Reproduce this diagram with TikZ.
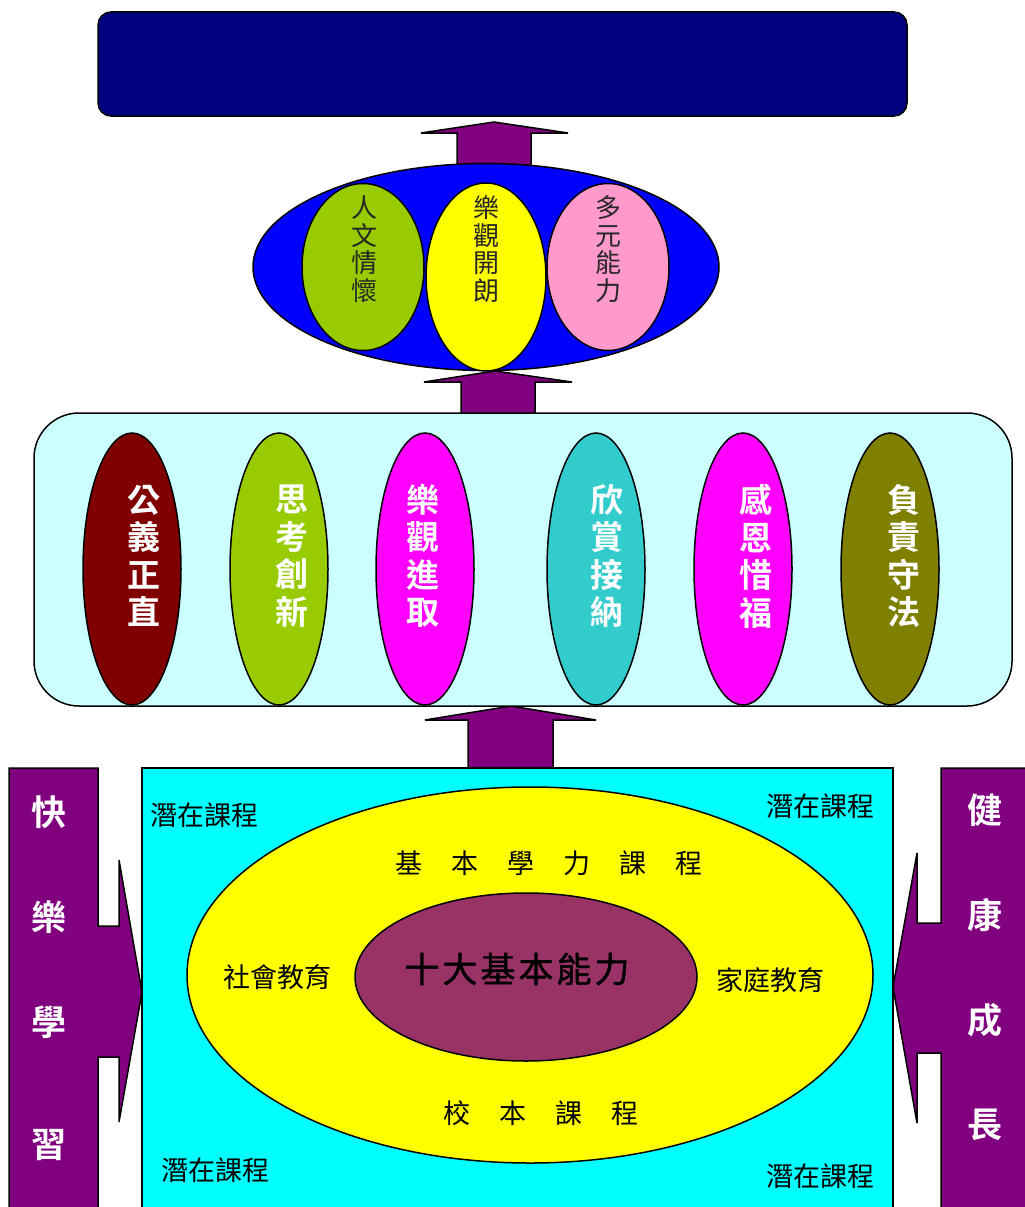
\documentclass[tikz,border=0pt]{standalone}
\usepackage{fontspec}
\usetikzlibrary{shapes.geometric}
\newfontfamily\cjk{Noto Sans CJK TC}
\newfontfamily\cjkb{Noto Sans CJK TC Bold}
\newfontfamily\cjkm[FakeBold=1.2]{Noto Sans CJK TC}
\definecolor{cNavy}{HTML}{000080}
\definecolor{cPurple}{HTML}{800080}
\definecolor{cBlue}{HTML}{0000FF}
\definecolor{cGreen}{HTML}{99CC00}
\definecolor{cYellow}{HTML}{FFFF00}
\definecolor{cPink}{HTML}{FF99CC}
\definecolor{cLCyan}{HTML}{CCFFFF}
\definecolor{cCyan}{HTML}{00FFFF}
\definecolor{cMaroon}{HTML}{800000}
\definecolor{cMagenta}{HTML}{FF00FF}
\definecolor{cTeal}{HTML}{33CCCC}
\definecolor{cOlive}{HTML}{808000}
\definecolor{cPlum}{HTML}{993366}
\tikzset{
  outl/.style={draw=black, line width=1.5pt},
  blockarrow/.style={outl, fill=cPurple, line join=miter},
  ell/.style={ellipse, outl, inner sep=0pt},
  vtext/.style={font=\cjk\fontsize{26}{27.5}\selectfont, align=center, text=black!85, inner sep=0pt},
  wtext/.style={font=\cjkb\fontsize{33}{37.5}\selectfont, align=center, text=white, inner sep=0pt},
  stext/.style={font=\cjkb\fontsize{35}{36}\selectfont, text=white, inner sep=0pt},
  ltext/.style={font=\cjk\fontsize{27}{28}\selectfont, text=black, inner sep=0pt},
}
\begin{document}
\begin{tikzpicture}[x=1pt,y=-1pt]
\useasboundingbox (0,0) rectangle (1025,1207);
% top box
\node[outl, fill=cNavy, rounded corners=13pt, minimum width=809pt, minimum height=104pt, inner sep=0pt] (goal) at (502.5,64) {};
% arrow 1
\draw[blockarrow] (457,166) -- (457,133) -- (421,133) -- (494,122) -- (568,133) -- (531,133) -- (531,166) -- cycle;
% arrow 2
\draw[blockarrow] (461,414) -- (461,382) -- (424,382) -- (495,371) -- (572,382) -- (535,382) -- (535,414) -- cycle;
% blue ellipse
\node[ell, fill=cBlue, minimum width=466pt, minimum height=207pt] (big) at (486,267) {};
\node[ell, fill=cGreen, minimum width=122pt, minimum height=167pt] (e1) at (363,267) {};
\node[ell, fill=cPink, minimum width=122pt, minimum height=167pt] (e3) at (608,267) {};
\node[ell, fill=cYellow, minimum width=120pt, minimum height=188pt] (e2) at (486,277) {};
\node[vtext] (t1) at (364,249) {人\\文\\情\\懷};
\node[vtext] (t2) at (486,249) {樂\\觀\\開\\朗};
\node[vtext] (t3) at (608,249) {多\\元\\能\\力};
% arrow 3
\draw[blockarrow] (468,769) -- (468,720) -- (425,720) -- (511,706) -- (596,720) -- (553,720) -- (553,769) -- cycle;
% light cyan box
\node[outl, fill=cLCyan, rounded corners=45pt, minimum width=978pt, minimum height=293pt, inner sep=0pt] (values) at (523,559.5) {};
\foreach \n/\x/\d/\c/\t in {v1/132/12/cMaroon/{公\\義\\正\\直}, v2/279/13/cGreen/{思\\考\\創\\新}, v3/425/-2/cMagenta/{樂\\觀\\進\\取}, v4/596/11/cTeal/{欣\\賞\\接\\納}, v5/743/13/cMagenta/{感\\恩\\惜\\福}, v6/890/14/cOlive/{負\\責\\守\\法}}{
  \node[ell, fill=\c, minimum width=98pt, minimum height=272pt] (\n) at (\x,569) {};
  \node[wtext] (\n t) at (\x+\d,556) {\t};
}
% bottom cyan box
\draw[outl, fill=cCyan] (142,768) rectangle (893,1212);
\node[ell, fill=cYellow, minimum width=686pt, minimum height=376pt] (cur) at (530,975) {};
\node[ell, fill=cPlum, minimum width=342pt, minimum height=168pt] (core) at (526,977) {};
\node[font=\cjkm\fontsize{35}{36}\selectfont, text=black, inner sep=0pt] (coret) at (517,969) {十\hspace{3pt}大\hspace{3pt}基\hspace{3pt}本\hspace{3pt}能\hspace{3pt}力};
\node[ltext] (b1) at (549,863) {基\hspace{29pt}本\hspace{29pt}學\hspace{29pt}力\hspace{29pt}課\hspace{29pt}程};
\node[ltext] (b2) at (541,1113) {校\hspace{29pt}本\hspace{29pt}課\hspace{29pt}程};
\node[ltext] (b3) at (277,977) {社會教育};
\node[ltext] (b4) at (770,980) {家庭教育};
\node[ltext] (h1) at (204,815) {潛在課程};
\node[ltext] (h2) at (820,806) {潛在課程};
\node[ltext] (h3) at (215,1170) {潛在課程};
\node[ltext] (h4) at (820,1176) {潛在課程};
% left arrow
\draw[blockarrow] (9,768) -- (98,768) -- (98,926) -- (119,926) -- (119,860) -- (142,992) -- (119,1122) -- (119,1057) -- (98,1057) -- (98,1212) -- (9,1212) -- cycle;
\node[stext] (l1) at (49,812) {快};
\node[stext] (l2) at (49,917) {樂};
\node[stext] (l3) at (49,1022) {學};
\node[stext] (l4) at (49,1145) {習};
% right arrow
\draw[blockarrow] (1030,768) -- (941,768) -- (941,923) -- (917,923) -- (917,853) -- (893,987) -- (917,1123) -- (917,1053) -- (941,1053) -- (941,1212) -- (1030,1212);
\node[stext] (r1) at (985,810) {健};
\node[stext] (r2) at (985,915) {康};
\node[stext] (r3) at (985,1020) {成};
\node[stext] (r4) at (985,1125) {長};
\end{tikzpicture}
\end{document}
